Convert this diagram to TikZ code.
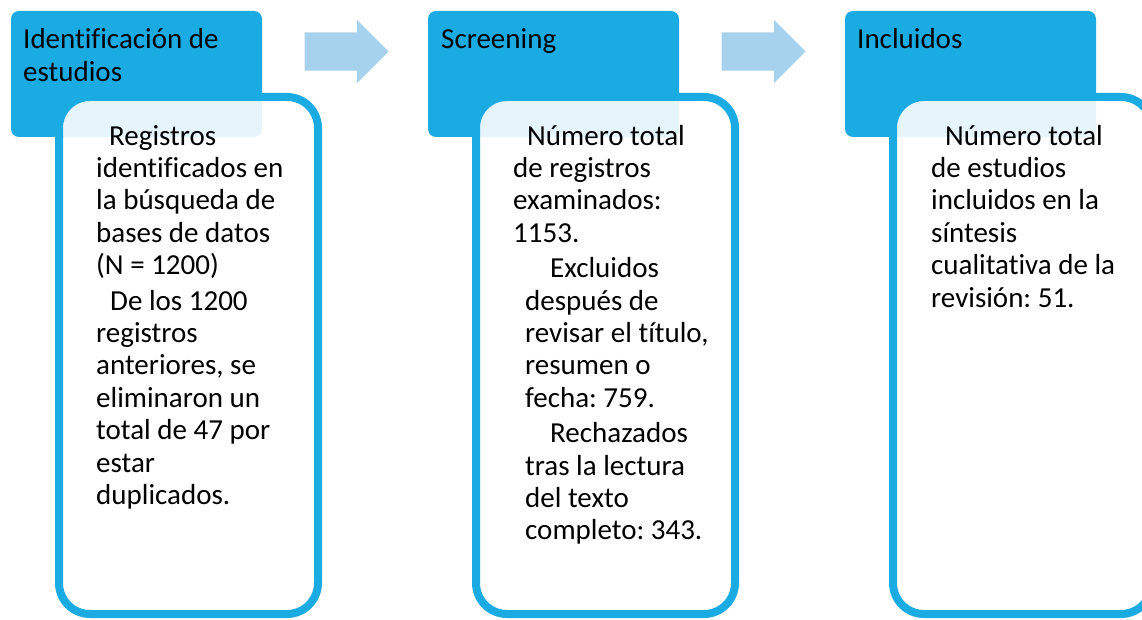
\documentclass[tikz,border=0pt]{standalone}
\usepackage{fontspec}
\setmainfont{Carlito}[Ligatures=NoCommon]
\usetikzlibrary{shapes.arrows}
\frenchspacing

\definecolor{headblue}{HTML}{1AABE2}
\definecolor{arrowblue}{HTML}{A6D2EE}

\begin{document}
\begin{tikzpicture} [
    x=1pt, y=-1pt,
    every node/.style = {inner sep=0pt},
    head/.style = {fill=headblue, rounded corners=8pt,
        minimum width=251pt, minimum height=126pt},
    body/.style = {draw=headblue, line width=8pt, fill=white,
        fill opacity=0.89, rounded corners=31pt,
        minimum width=259pt, minimum height=517pt},
    flow/.style = {single arrow, fill=arrowblue,
        inner xsep=0pt, inner ysep=19pt, minimum height=84pt,
        single arrow head extend=12.5pt},
    headtext/.style = {anchor=north west, align=left,
        font=\fontsize{29}{33}\selectfont},
    bodytext/.style = {anchor=north west, align=left,
        font=\fontsize{29}{32.4}\selectfont}]
    % \draw [help lines] (0,0) grid [step=50] (1142,620);
    \useasboundingbox (0,0) rectangle (1142,620);
    \clip (0,0) rectangle (1142,620);

    \node (h1) [head] at (136.5,74) {};
    \node (h2) [head] at (553.5,74) {};
    \node (h3) [head] at (970.5,74) {};

    \node (a1) [flow] at (337,51.5) {};
    \node (a2) [flow] at (754,51.5) {};

    \node (b1) [body] at (188.5,355.5) {};
    \node (b2) [body] at (605.5,355.5) {};
    \node (b3) [body] at (1022.5,355.5) {};

    % first baselines at y = 48 and y = 145 (strut height 0.7 baselineskip)
    \node (l1) [headtext] at (23,24.9) {\strut Identificación de\\estudios};
    \node (l2) [headtext] at (441,24.9) {\strut Screening};
    \node (l3) [headtext] at (857,24.9) {\strut Incluidos};

    \node (t1) [bodytext] at (96,122.3) {%
        \strut\hspace*{13pt}Registros\\
        identificados en\\
        la búsqueda de\\
        bases de datos\\
        (N = 1200)\\[3pt]
        \hspace*{14pt}De los 1200\\
        registros\\
        anteriores, se\\
        eliminaron un\\
        total de 47 por\\
        estar\\
        duplicados.};
    \node (t2) [bodytext] at (513,122.3) {%
        \strut\hspace*{14pt}Número total\\
        de registros\\
        examinados:\\
        1153.\\[3pt]
        \hspace*{37pt}Excluidos\\
        \hspace*{12pt}después de\\
        \hspace*{12pt}revisar el título,\\
        \hspace*{12pt}resumen o\\
        \hspace*{12pt}fecha: 759.\\[3pt]
        \hspace*{37pt}Rechazados\\
        \hspace*{12pt}tras la lectura\\
        \hspace*{12pt}del texto\\
        \hspace*{12pt}completo: 343.};
    \node (t3) [bodytext] at (931,122.3) {%
        \strut\hspace*{14pt}Número total\\
        de estudios\\
        incluidos en la\\
        síntesis\\
        cualitativa de la\\
        revisión: 51.};
\end{tikzpicture}
\end{document}
